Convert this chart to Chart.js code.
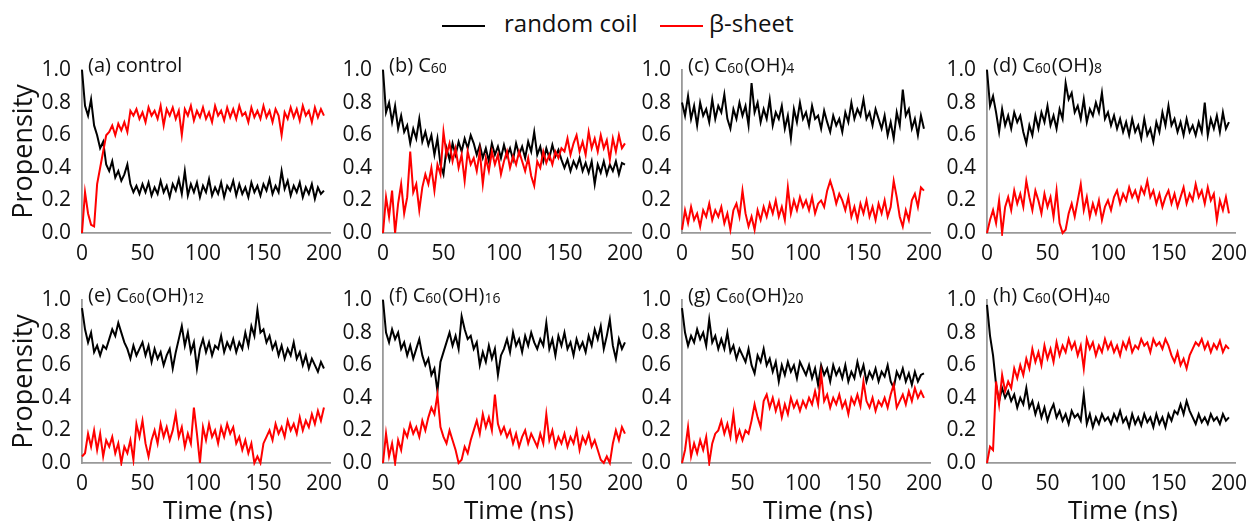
<!DOCTYPE html>
<html>
<head>
<meta charset="utf-8">
<script src="https://cdn.jsdelivr.net/npm/chart.js@4.4.1/dist/chart.umd.min.js"></script>
<style>
  html, body { margin: 0; padding: 0; background: #fff; width: 1254px; height: 521px; overflow: hidden; }
  body { position: relative; font-family: "Open Sans", sans-serif; color: #111; }
  canvas { position: absolute; }
  .lg-line { position: absolute; height: 2px; width: 43px; top: 25px; }
  .lg-text { position: absolute; top: 8px; font-size: 24px; line-height: 30px; white-space: nowrap; }
</style>
</head>
<body>
<div class="lg-line" style="left:442px;background:#000"></div>
<div class="lg-text" style="left:504px">random coil</div>
<div class="lg-line" style="left:660px;background:#ff0000"></div>
<div class="lg-text" style="left:709px">β-sheet</div>

<script>
// sampling times (ns)
const TIME = [
  0, 2.5, 5, 7.5, 10, 12.5, 15, 17.5, 20, 22.5,
  25, 27.5, 30, 32.5, 35, 37.5, 40, 42.5, 45, 47.5,
  50, 52.5, 55, 57.5, 60, 62.5, 65, 67.5, 70, 72.5,
  75, 77.5, 80, 82.5, 85, 87.5, 90, 92.5, 95, 97.5,
  100, 102.5, 105, 107.5, 110, 112.5, 115, 117.5, 120, 122.5,
  125, 127.5, 130, 132.5, 135, 137.5, 140, 142.5, 145, 147.5,
  150, 152.5, 155, 157.5, 160, 162.5, 165, 167.5, 170, 172.5,
  175, 177.5, 180, 182.5, 185, 187.5, 190, 192.5, 195, 197.5,
  200
];
const X_TICKS = [0, 50, 100, 150, 200];
const Y_TICKS = [0, 0.2, 0.4, 0.6, 0.8, 1.0];
const SERIES_NAMES = ['random coil', 'β-sheet'];
const X_LABEL = 'Time (ns)';
const Y_LABEL = 'Propensity';
// {..} = small subscript digits
const TITLES = ['(a) control', '(b) C{60}', '(c) C{60}(OH){4}', '(d) C{60}(OH){8}',
  '(e) C{60}(OH){12}', '(f) C{60}(OH){16}', '(g) C{60}(OH){20}', '(h) C{60}(OH){40}'];

// (a) control
const COIL_A = [
  1.0, 0.78, 0.72, 0.82, 0.66, 0.6, 0.52, 0.56, 0.42, 0.38,
  0.44, 0.34, 0.38, 0.32, 0.36, 0.42, 0.3, 0.25, 0.29, 0.24,
  0.3, 0.25, 0.31, 0.23, 0.28, 0.24, 0.32, 0.25, 0.29, 0.22,
  0.3, 0.26, 0.33, 0.24, 0.38, 0.23, 0.3, 0.25, 0.31, 0.22,
  0.29, 0.25, 0.33, 0.23, 0.28, 0.24, 0.31, 0.22, 0.29, 0.26,
  0.32, 0.23, 0.3, 0.24, 0.28, 0.22, 0.31, 0.25, 0.29, 0.23,
  0.3, 0.26, 0.33, 0.24, 0.29, 0.25, 0.38, 0.27, 0.32, 0.23,
  0.29, 0.25, 0.31, 0.22, 0.28, 0.24, 0.3, 0.21, 0.28, 0.24,
  0.26
];
const SHEET_A = [
  0.0, 0.25, 0.12, 0.05, 0.04, 0.3, 0.4, 0.5, 0.6, 0.62,
  0.66, 0.6, 0.67, 0.63, 0.68, 0.62, 0.75, 0.72, 0.76, 0.7,
  0.74, 0.68, 0.77, 0.72, 0.75, 0.7, 0.78, 0.66, 0.76, 0.72,
  0.77, 0.7, 0.75, 0.6, 0.76, 0.72, 0.78, 0.69, 0.75, 0.71,
  0.77, 0.7, 0.74, 0.68, 0.78, 0.72, 0.75, 0.69, 0.77, 0.71,
  0.76, 0.7, 0.78, 0.72, 0.74, 0.68, 0.77, 0.71, 0.75, 0.7,
  0.78, 0.71, 0.75, 0.68, 0.76, 0.72, 0.6, 0.74, 0.7, 0.77,
  0.71, 0.76, 0.69, 0.78, 0.72, 0.75, 0.68, 0.77, 0.71, 0.76,
  0.72
];
// (b) C60
const COIL_B = [
  1.0, 0.74, 0.8, 0.68, 0.78, 0.64, 0.72, 0.62, 0.66, 0.55,
  0.64, 0.58, 0.7, 0.56, 0.62, 0.54, 0.6, 0.48, 0.58, 0.42,
  0.36, 0.52, 0.45, 0.55, 0.48, 0.56, 0.5, 0.58, 0.52, 0.6,
  0.55, 0.48, 0.54, 0.46, 0.52, 0.44, 0.55, 0.48, 0.53, 0.46,
  0.54, 0.47, 0.52, 0.45, 0.55, 0.48, 0.53, 0.46, 0.56, 0.5,
  0.62, 0.48, 0.53, 0.44, 0.52, 0.46, 0.54, 0.47, 0.51, 0.45,
  0.4, 0.45, 0.38, 0.44, 0.4, 0.46, 0.38, 0.43, 0.37, 0.44,
  0.3, 0.42, 0.37, 0.44, 0.36, 0.42, 0.38, 0.44, 0.36, 0.43,
  0.42
];
const SHEET_B = [
  0.0, 0.22, 0.1, 0.26, 0.0, 0.18, 0.3, 0.12, 0.22, 0.5,
  0.25, 0.3, 0.14, 0.28, 0.36, 0.3, 0.4, 0.26, 0.42, 0.36,
  0.62, 0.48, 0.55, 0.44, 0.52, 0.4, 0.48, 0.32, 0.5, 0.42,
  0.46, 0.38, 0.5, 0.3, 0.46, 0.38, 0.5, 0.42, 0.48, 0.36,
  0.44, 0.5, 0.4, 0.47, 0.42, 0.5, 0.44, 0.38, 0.46, 0.35,
  0.29, 0.44, 0.4, 0.5, 0.43, 0.48, 0.42, 0.5, 0.46, 0.52,
  0.5, 0.58, 0.48, 0.55, 0.6, 0.5, 0.56, 0.48, 0.62, 0.52,
  0.58, 0.5, 0.6, 0.52, 0.57, 0.45, 0.58, 0.5, 0.6, 0.52,
  0.55
];
// (c) C60(OH)4
const COIL_C = [
  0.8, 0.72, 0.84, 0.7, 0.78, 0.66, 0.8, 0.72, 0.76, 0.68,
  0.82, 0.7, 0.78, 0.74, 0.85, 0.7, 0.64, 0.76, 0.7, 0.8,
  0.72, 0.78, 0.66, 0.92, 0.74, 0.8, 0.68, 0.76, 0.7, 0.82,
  0.66, 0.74, 0.7, 0.78, 0.64, 0.72, 0.58, 0.76, 0.68, 0.8,
  0.7, 0.74, 0.66, 0.78, 0.7, 0.72, 0.64, 0.75, 0.68, 0.62,
  0.72, 0.66, 0.7, 0.62, 0.74, 0.68, 0.8, 0.7, 0.76, 0.72,
  0.82, 0.7, 0.74, 0.66, 0.76, 0.7, 0.64, 0.72, 0.6, 0.68,
  0.58, 0.74, 0.66, 0.88, 0.72, 0.76, 0.64, 0.7, 0.6, 0.72,
  0.64
];
const SHEET_C = [
  0.02, 0.14, 0.06, 0.16, 0.08, 0.12, 0.04, 0.14, 0.1, 0.18,
  0.08, 0.14, 0.1, 0.16, 0.06, 0.12, 0.02, 0.14, 0.18, 0.1,
  0.26, 0.12, 0.04, 0.1, 0.02, 0.14, 0.08, 0.16, 0.1, 0.18,
  0.12, 0.2, 0.1, 0.16, 0.08, 0.28, 0.12, 0.2, 0.14, 0.22,
  0.16, 0.2, 0.14, 0.22, 0.12, 0.18, 0.2, 0.16, 0.26, 0.32,
  0.26, 0.18, 0.24, 0.2, 0.14, 0.22, 0.1, 0.16, 0.08, 0.18,
  0.12, 0.2, 0.1, 0.16, 0.08, 0.18, 0.12, 0.2, 0.1, 0.16,
  0.32, 0.22, 0.1, 0.04, 0.14, 0.08, 0.2, 0.24, 0.16, 0.28,
  0.26
];
// (d) C60(OH)8
const COIL_D = [
  1.0, 0.78, 0.84, 0.74, 0.62, 0.76, 0.66, 0.72, 0.64, 0.74,
  0.68, 0.72, 0.62, 0.55, 0.66, 0.6, 0.72, 0.64, 0.74, 0.68,
  0.78, 0.66, 0.72, 0.64, 0.76, 0.7, 0.92, 0.82, 0.86, 0.74,
  0.78, 0.7, 0.82, 0.68, 0.76, 0.72, 0.8, 0.74, 0.86, 0.7,
  0.74, 0.66, 0.72, 0.64, 0.7, 0.62, 0.68, 0.6, 0.7, 0.62,
  0.66, 0.58, 0.7, 0.6, 0.64, 0.56, 0.68, 0.62, 0.74, 0.66,
  0.78, 0.66, 0.7, 0.62, 0.68, 0.6, 0.7, 0.62, 0.66, 0.6,
  0.68, 0.62, 0.8, 0.6, 0.7, 0.64, 0.72, 0.62, 0.74, 0.64,
  0.68
];
const SHEET_D = [
  0.0, 0.08, 0.14, 0.06, 0.2, 0.0, 0.16, 0.22, 0.14, 0.26,
  0.18, 0.24, 0.16, 0.32, 0.22, 0.14, 0.26, 0.2, 0.12, 0.24,
  0.16, 0.22, 0.1, 0.26, 0.06, 0.0, 0.02, 0.12, 0.18, 0.1,
  0.2, 0.3, 0.14, 0.22, 0.1, 0.18, 0.12, 0.2, 0.08, 0.16,
  0.2, 0.14, 0.22, 0.26, 0.18, 0.24, 0.2, 0.28, 0.22, 0.26,
  0.2, 0.28, 0.24, 0.32, 0.22, 0.26, 0.18, 0.24, 0.16, 0.22,
  0.26, 0.18, 0.24, 0.16, 0.22, 0.28, 0.18, 0.24, 0.2, 0.3,
  0.22, 0.26, 0.18, 0.28, 0.2, 0.24, 0.08, 0.2, 0.14, 0.22,
  0.12
];
// (e) C60(OH)12
const COIL_E = [
  0.95, 0.82, 0.74, 0.8, 0.68, 0.72, 0.66, 0.72, 0.7, 0.76,
  0.82, 0.78, 0.86, 0.8, 0.74, 0.7, 0.64, 0.72, 0.66, 0.7,
  0.74, 0.66, 0.72, 0.62, 0.7, 0.64, 0.68, 0.6, 0.66, 0.7,
  0.58, 0.68, 0.76, 0.84, 0.72, 0.8, 0.68, 0.74, 0.58, 0.7,
  0.76, 0.68, 0.74, 0.66, 0.72, 0.7, 0.78, 0.68, 0.74, 0.7,
  0.76, 0.68, 0.74, 0.7, 0.8, 0.72, 0.84, 0.78, 0.94, 0.8,
  0.82, 0.74, 0.78, 0.7, 0.74, 0.66, 0.72, 0.64, 0.7, 0.66,
  0.74, 0.64, 0.68, 0.6, 0.66, 0.58, 0.64, 0.6, 0.56, 0.62,
  0.58
];
const SHEET_E = [
  0.04, 0.06, 0.18, 0.1, 0.2, 0.08, 0.18, 0.04, 0.14, 0.1,
  0.16, 0.06, 0.12, 0.0, 0.1, 0.06, 0.14, 0.02, 0.24, 0.16,
  0.26, 0.12, 0.04, 0.14, 0.2, 0.12, 0.24, 0.16, 0.22, 0.14,
  0.2, 0.3, 0.16, 0.22, 0.1, 0.18, 0.12, 0.34, 0.18, 0.0,
  0.22, 0.14, 0.24, 0.16, 0.2, 0.12, 0.22, 0.16, 0.24, 0.18,
  0.22, 0.12, 0.16, 0.08, 0.14, 0.06, 0.12, 0.0, 0.04, 0.0,
  0.12, 0.16, 0.2, 0.14, 0.24, 0.18, 0.22, 0.16, 0.26, 0.2,
  0.24, 0.18, 0.28, 0.2, 0.26, 0.22, 0.3, 0.24, 0.32, 0.26,
  0.34
];
// (f) C60(OH)16
const COIL_F = [
  1.0, 0.8, 0.74, 0.82, 0.76, 0.8, 0.7, 0.74, 0.66, 0.72,
  0.64, 0.7, 0.76, 0.66, 0.6, 0.64, 0.54, 0.58, 0.44, 0.62,
  0.68, 0.74, 0.8, 0.72, 0.78, 0.7, 0.9, 0.82, 0.76, 0.78,
  0.7, 0.74, 0.6, 0.68, 0.62, 0.72, 0.64, 0.7, 0.54, 0.66,
  0.7, 0.76, 0.68, 0.8, 0.72, 0.76, 0.68, 0.78, 0.72, 0.8,
  0.74, 0.7, 0.76, 0.72, 0.86, 0.7, 0.76, 0.66, 0.78, 0.72,
  0.8, 0.7, 0.74, 0.66, 0.76, 0.7, 0.74, 0.68, 0.78, 0.72,
  0.82, 0.76, 0.84, 0.7, 0.78, 0.88, 0.72, 0.64, 0.76, 0.7,
  0.74
];
const SHEET_F = [
  0.0, 0.18, 0.04, 0.12, 0.0, 0.14, 0.08, 0.2, 0.16, 0.24,
  0.18, 0.22, 0.16, 0.26, 0.2, 0.28, 0.34, 0.3, 0.42, 0.22,
  0.16, 0.12, 0.2, 0.14, 0.08, 0.0, 0.02, 0.1, 0.06, 0.14,
  0.2, 0.26, 0.18, 0.3, 0.22, 0.28, 0.2, 0.42, 0.24, 0.18,
  0.22, 0.16, 0.2, 0.12, 0.18, 0.1, 0.16, 0.2, 0.12, 0.18,
  0.14, 0.1, 0.18, 0.12, 0.3, 0.14, 0.2, 0.1, 0.16, 0.12,
  0.18, 0.1, 0.16, 0.12, 0.2, 0.08, 0.16, 0.12, 0.18, 0.1,
  0.14, 0.08, 0.02, 0.0, 0.04, 0.0, 0.12, 0.2, 0.14, 0.22,
  0.18
];
// (g) C60(OH)20
const COIL_G = [
  0.95, 0.8, 0.72, 0.78, 0.74, 0.82, 0.76, 0.8, 0.72, 0.88,
  0.74, 0.78, 0.7, 0.76, 0.7, 0.8, 0.68, 0.72, 0.64, 0.7,
  0.66, 0.62, 0.7, 0.6, 0.55, 0.66, 0.62, 0.7, 0.6, 0.64,
  0.56, 0.62, 0.5, 0.6, 0.54, 0.62, 0.56, 0.6, 0.52, 0.62,
  0.58, 0.54, 0.6, 0.52, 0.58, 0.48, 0.6, 0.54, 0.58, 0.5,
  0.6, 0.54, 0.58, 0.52, 0.6, 0.5, 0.56, 0.52, 0.62, 0.54,
  0.6, 0.5, 0.56, 0.52, 0.58, 0.5, 0.56, 0.53, 0.6, 0.5,
  0.46, 0.56, 0.52, 0.58, 0.5, 0.55, 0.48, 0.56, 0.5, 0.54,
  0.55
];
const SHEET_G = [
  0.0, 0.08, 0.22, 0.04, 0.12, 0.06, 0.14, 0.08, 0.16, 0.0,
  0.12, 0.18, 0.2, 0.26, 0.18, 0.24, 0.16, 0.3, 0.14, 0.2,
  0.14, 0.2, 0.18, 0.26, 0.36, 0.28, 0.22, 0.38, 0.42, 0.34,
  0.4, 0.32, 0.38, 0.28, 0.36, 0.3, 0.4, 0.34, 0.38, 0.32,
  0.38, 0.34, 0.4, 0.36, 0.44, 0.36, 0.55, 0.38, 0.42, 0.34,
  0.4, 0.36, 0.42, 0.34, 0.38, 0.3, 0.4, 0.36, 0.42, 0.35,
  0.5, 0.38, 0.34, 0.4, 0.32, 0.38, 0.35, 0.4, 0.34, 0.42,
  0.48, 0.34, 0.38, 0.42, 0.36, 0.44, 0.38, 0.46, 0.4, 0.44,
  0.4
];
// (h) C60(OH)40
const COIL_H = [
  0.97, 0.78, 0.66, 0.48, 0.38, 0.46, 0.4, 0.44, 0.38, 0.42,
  0.34, 0.4, 0.36, 0.46, 0.34, 0.38, 0.3, 0.36, 0.28, 0.34,
  0.26, 0.32, 0.36, 0.28, 0.32, 0.26, 0.3, 0.24, 0.32, 0.28,
  0.3, 0.26, 0.42, 0.24, 0.3, 0.22, 0.28, 0.24, 0.3, 0.26,
  0.28, 0.24, 0.3, 0.26, 0.32, 0.25, 0.28, 0.22, 0.3, 0.24,
  0.28, 0.23, 0.3, 0.25, 0.28, 0.22, 0.3, 0.24, 0.28, 0.22,
  0.3, 0.26, 0.32, 0.3, 0.36, 0.3, 0.38, 0.32, 0.28, 0.24,
  0.3, 0.25, 0.28, 0.24, 0.3, 0.26, 0.28, 0.24, 0.3, 0.26,
  0.28
];
const SHEET_H = [
  0.0, 0.1, 0.08, 0.5, 0.36, 0.54, 0.44, 0.5, 0.46, 0.58,
  0.52, 0.6, 0.54, 0.64, 0.58, 0.7, 0.62, 0.68, 0.6, 0.72,
  0.64, 0.7, 0.62, 0.74, 0.66, 0.72, 0.68, 0.76, 0.7, 0.74,
  0.66, 0.72, 0.58, 0.76, 0.7, 0.74, 0.66, 0.72, 0.68, 0.76,
  0.7, 0.74, 0.68, 0.72, 0.66, 0.74, 0.7, 0.76, 0.68, 0.72,
  0.7, 0.76, 0.72, 0.74, 0.68, 0.76, 0.72, 0.74, 0.7, 0.76,
  0.72, 0.66, 0.62, 0.68, 0.6, 0.64, 0.58, 0.66, 0.7, 0.74,
  0.72, 0.76, 0.7, 0.74, 0.68, 0.73, 0.7, 0.75, 0.68, 0.72,
  0.7
];

const COILS = [COIL_A, COIL_B, COIL_C, COIL_D, COIL_E, COIL_F, COIL_G, COIL_H];
const SHEETS = [SHEET_A, SHEET_B, SHEET_C, SHEET_D, SHEET_E, SHEET_F, SHEET_G, SHEET_H];

// layout (page px)
const AXIS_X = [82, 383, 682, 987];
const PLOT_TOP = [70, 300];
const PLOT_H = 163;
const PLOT_W = 248;     // 0..205 ns
const Y_W = 80;
const PAD_TOP = 20;
const FONT = '"Open Sans", sans-serif';

// panel label (small subscript digits) and the shifted "Time (ns)" label
const panelText = {
    id: 'panelText',
    afterDraw(chart, args, opts) {
        const {ctx, chartArea} = chart;
        let x = chartArea.left + 6;
        const y = chartArea.top + 2;
        ctx.save();
        ctx.fillStyle = '#111';
        ctx.textBaseline = 'alphabetic';
        opts.text.split(/(\{[^}]*\})/).forEach(part => {
            if (!part) return;
            const sub = part[0] === '{';
            const txt = sub ? part.slice(1, -1) : part;
            ctx.font = (sub ? '14px ' : '20px ') + FONT;
            ctx.fillText(txt, x, y + (sub ? 1 : 0));
            x += ctx.measureText(txt).width + (sub ? 1 : 0);
        });
        if (opts.xLabel) {
            ctx.font = '26px ' + FONT;
            ctx.textAlign = 'center';
            ctx.fillText(X_LABEL, (chartArea.left + chartArea.right) / 2 + 12, chartArea.bottom + 56);
        }
        ctx.restore();
    }
};

const toPoints = arr => TIME.map((t, i) => ({x: t, y: arr[i]}));

for (let p = 0; p < 8; p++) {
    const col = p % 4, row = Math.floor(p / 4);
    const xh = row === 1 ? 60 : 30;
    const cv = document.createElement('canvas');
    const w = Y_W + PLOT_W + 14;
    const h = PAD_TOP + PLOT_H + xh;
    cv.width = w; cv.height = h;
    cv.style.left = (AXIS_X[col] - Y_W) + 'px';
    cv.style.top = (PLOT_TOP[row] - PAD_TOP) + 'px';
    cv.style.width = w + 'px'; cv.style.height = h + 'px';
    document.body.appendChild(cv);

    new Chart(cv, {
        type: 'line',
        data: {
            datasets: [
                {label: SERIES_NAMES[0], data: toPoints(COILS[p]), borderColor: '#000', order: 1},
                {label: SERIES_NAMES[1], data: toPoints(SHEETS[p]), borderColor: '#ff0000', order: 0}
            ]
        },
        options: {
            responsive: false,
            devicePixelRatio: 1,
            animation: false,
            events: [],
            layout: {padding: {top: PAD_TOP, right: 14, left: 0, bottom: 0}},
            elements: {
                point: {radius: 0},
                line: {borderWidth: 2, tension: 0, borderJoinStyle: 'miter'}
            },
            clip: 3,
            plugins: {
                legend: {display: false},
                tooltip: {enabled: false},
                panelText: {text: TITLES[p], xLabel: row === 1}
            },
            scales: {
                x: {
                    type: 'linear', min: 0, max: 205,
                    afterBuildTicks: s => { s.ticks = X_TICKS.map(v => ({value: v})); },
                    afterFit: s => { s.height = xh; },
                    grid: {display: false},
                    border: {display: true, color: '#999', width: 1.8},
                    ticks: {color: '#111', font: {family: FONT, size: 21}, padding: 0, maxRotation: 0,
                        callback: v => String(v)}
                },
                y: {
                    min: 0, max: 1,
                    afterBuildTicks: s => { s.ticks = Y_TICKS.map(v => ({value: v})); },
                    afterFit: s => { s.width = Y_W; },
                    grid: {display: false},
                    border: {display: true, color: '#999', width: 1.8},
                    ticks: {color: '#111', font: {family: FONT, size: 21}, padding: 3,
                        callback: v => v.toFixed(1)},
                    title: {display: col === 0, text: Y_LABEL, color: '#111',
                        font: {family: FONT, size: 27}, padding: {top: 6, bottom: 0}}
                }
            }
        },
        plugins: [panelText]
    });
}
</script>
</body>
</html>
